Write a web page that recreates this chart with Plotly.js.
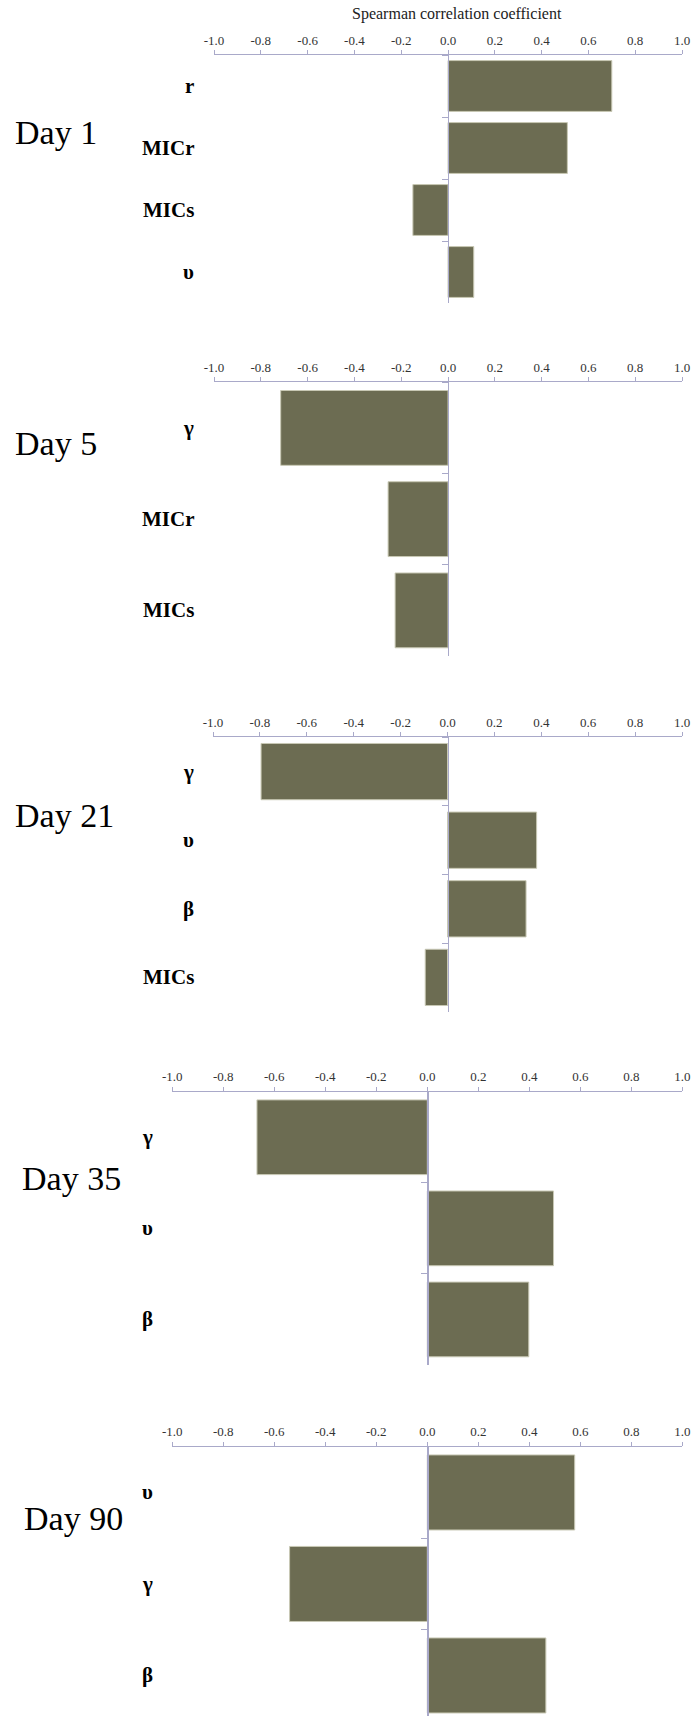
<!DOCTYPE html>
<html>
<head>
<meta charset="utf-8">
<script src="https://cdn.plot.ly/plotly-3.0.1.min.js"></script>
<style>html,body{margin:0;padding:0;background:#fff;}</style>
</head>
<body>
<div id="chart" style="width:698px;height:1716px;"></div>
<script>
// Data
const panelTitles = ["Day 1", "Day 5", "Day 21", "Day 35", "Day 90"];
const day1Params = ["r", "MICr", "MICs", "υ"];
const day1Values = [0.70, 0.51, -0.15, 0.11];
const day5Params = ["γ", "MICr", "MICs"];
const day5Values = [-0.715, -0.256, -0.226];
const day21Params = ["γ", "υ", "β", "MICs"];
const day21Values = [-0.795, 0.38, 0.335, -0.095];
const day35Params = ["γ", "υ", "β"];
const day35Values = [-0.668, 0.495, 0.398];
const day90Params = ["υ", "γ", "β"];
const day90Values = [0.578, -0.54, 0.465];
const xTickVals = [-1.0, -0.8, -0.6, -0.4, -0.2, 0.0, 0.2, 0.4, 0.6, 0.8, 1.0];
const xTickText = ["-1.0", "-0.8", "-0.6", "-0.4", "-0.2", "0.0", "0.2", "0.4", "0.6", "0.8", "1.0"];
const axisTitle = "Spearman correlation coefficient";

const params = [day1Params, day5Params, day21Params, day35Params, day90Params];
const values = [day1Values, day5Values, day21Values, day35Values, day90Values];

// Layout geometry (pixels)
const W = 698, H = 1716;
const panels = [
  {top: 55,    bottom: 303,   x0: 214,   x1: 682,   labelRight: 196, titleY: 133,  titleX: 13, rangeEnd: null},
  {top: 382.3, bottom: 656,   x0: 214,   x1: 682,   labelRight: 196, titleY: 443,  titleX: 13, rangeEnd: null},
  {top: 737.3, bottom: 1011.7,x0: 213,   x1: 682,   labelRight: 196, titleY: 815,  titleX: 13, rangeEnd: null},
  {top: 1091.7,bottom: 1365,  x0: 172.3, x1: 682.3, labelRight: 155, titleY: 1178, titleX: 20, rangeEnd: null},
  {top: 1446.7,bottom: 1716,  x0: 172.3, x1: 682.3, labelRight: 155, titleY: 1518, titleX: 22, rangeEnd: 2.443}
];

const serif = "Liberation Serif, Times New Roman, serif";
const barColor = "#6c6c52";
const axisColor = "#a9a9c9";

const data = [];
const layout = {
  width: W, height: H,
  margin: {l: 0, r: 0, t: 0, b: 0},
  paper_bgcolor: "#ffffff",
  plot_bgcolor: "rgba(0,0,0,0)",
  showlegend: false,
  bargap: 0.18,
  annotations: [],
  font: {family: serif, color: "#000"}
};

// axis title for the top panel
layout.annotations.push({
  text: axisTitle,
  xref: "paper", yref: "paper",
  x: 457 / W, y: 1 - 14 / H,
  xanchor: "center", yanchor: "middle",
  showarrow: false,
  font: {family: serif, size: 16, color: "#222"}
});

panels.forEach((p, i) => {
  const n = i + 1;
  const xa = "x" + (n === 1 ? "" : n);
  const ya = "y" + (n === 1 ? "" : n);
  const xKey = "xaxis" + (n === 1 ? "" : n);
  const yKey = "yaxis" + (n === 1 ? "" : n);
  data.push({
    type: "bar",
    orientation: "h",
    x: values[i],
    y: params[i],
    xaxis: xa, yaxis: ya,
    marker: {color: barColor, line: {color: "#c8c8b4", width: 1}},
    hoverinfo: "x+y"
  });
  const dx0 = p.x0 / W, dx1 = p.x1 / W;
  const zeroPos = (dx0 + dx1) / 2;
  const nCat = params[i].length;
  layout[xKey] = {
    domain: [dx0, dx1],
    anchor: ya,
    side: "top",
    range: [-1, 1],
    tickvals: xTickVals,
    ticktext: xTickText,
    ticks: "outside",
    ticklen: 4,
    tickcolor: axisColor,
    showline: true,
    linecolor: axisColor,
    linewidth: 1.2,
    showgrid: false,
    zeroline: false,
    tickfont: {family: serif, size: 13, color: "#333"},
    fixedrange: true
  };
  layout[yKey] = {
    domain: [1 - p.bottom / H, 1 - p.top / H],
    anchor: "free",
    position: zeroPos,
    type: "category",
    categoryarray: params[i],
    categoryorder: "array",
    range: [p.rangeEnd !== null ? p.rangeEnd : nCat - 0.5, -0.5],
    showline: true,
    linecolor: axisColor,
    linewidth: 1.2,
    ticks: "outside",
    tickson: "boundaries",
    ticklen: 6,
    tickcolor: axisColor,
    showgrid: false,
    zeroline: false,
    showticklabels: false,
    fixedrange: true
  };
  // category labels placed at the left, on the category positions
  params[i].forEach((name) => {
    layout.annotations.push({
      text: "<b>" + name + "</b>",
      xref: "paper", yref: ya,
      x: p.labelRight / W, y: name,
      xanchor: "right", yanchor: "middle",
      showarrow: false,
      font: {family: serif, size: 21, color: "#000"}
    });
  });
  layout.annotations.push({
    text: panelTitles[i],
    xref: "paper", yref: "paper",
    x: p.titleX / W, y: 1 - p.titleY / H,
    xanchor: "left", yanchor: "middle",
    showarrow: false,
    font: {family: serif, size: 34, color: "#000"}
  });
});

Plotly.newPlot("chart", data, layout, {displayModeBar: false, staticPlot: true});
</script>
</body>
</html>
